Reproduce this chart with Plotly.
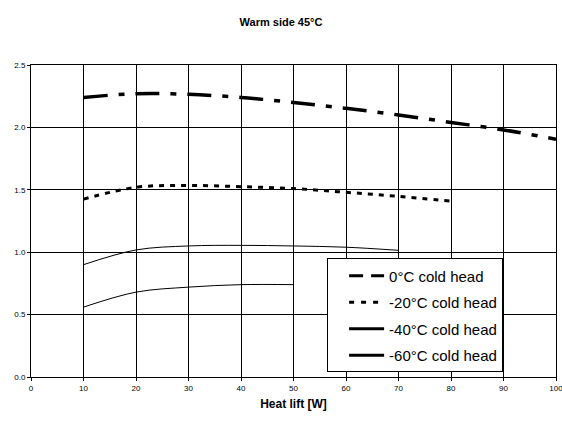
import plotly.graph_objects as go

heat_lift_0 = [10, 20, 30, 40, 50, 60, 70, 80, 90, 100]
cop_0 = [2.24, 2.27, 2.265, 2.24, 2.20, 2.153, 2.10, 2.04, 1.98, 1.905]

heat_lift_20 = [10, 20, 30, 40, 50, 60, 70, 80]
cop_20 = [1.425, 1.52, 1.535, 1.525, 1.51, 1.48, 1.447, 1.41]

heat_lift_40 = [10, 20, 30, 40, 50, 60, 70]
cop_40 = [0.90, 1.018, 1.05, 1.055, 1.05, 1.04, 1.015]

heat_lift_60 = [10, 20, 30, 40, 50]
cop_60 = [0.56, 0.68, 0.72, 0.74, 0.74]

names = ["0°C cold head", "-20°C cold head", "-40°C cold head", "-60°C cold head"]

font = "Liberation Sans, Arial, sans-serif"
dash0 = "24px,11px,6px,11px"
dash20 = "5px,6px"

fig = go.Figure()
series = [
    (heat_lift_0, cop_0, 3.5, dash0),
    (heat_lift_20, cop_20, 3, dash20),
    (heat_lift_40, cop_40, 1, "solid"),
    (heat_lift_60, cop_60, 1, "solid"),
]
for (xs, ys, w, d), n in zip(series, names):
    fig.add_trace(go.Scatter(x=xs, y=ys, mode="lines", showlegend=False,
                             line=dict(color="black", width=w, dash=d, shape="spline"),
                             hoverinfo="skip"))
legend_dash = ["14px,8px,6px,0px", "5px,7px", "solid", "solid"]
for i, n in enumerate(names):
    fig.add_trace(go.Scatter(x=[None], y=[None], mode="lines", name=n,
                             legendgroup=str(i),
                             line=dict(color="black", width=3, dash=legend_dash[i])))

fig.update_layout(
    width=562, height=423,
    margin=dict(l=31, r=6, t=65, b=46),
    paper_bgcolor="white", plot_bgcolor="white",
    font=dict(family=font, color="black", size=8),
    title=dict(text="<b>Warm side 45°C</b>", x=0.5, xanchor="center", y=1 - 22/423, yanchor="middle",
               font=dict(size=11, family=font)),
    xaxis=dict(range=[0, 100], dtick=10, tick0=0, showgrid=True, gridcolor="black", gridwidth=1,
               showline=True, linecolor="black", linewidth=1, mirror=True, ticks="outside",
               ticklen=3, tickcolor="black", zeroline=False, ticklabeloverflow="allow",
               automargin=False,
               title=dict(text="<b>Heat lift [W]</b>", font=dict(size=12, family=font), standoff=8),
               tickfont=dict(size=8)),
    yaxis=dict(range=[0, 2.5], dtick=0.5, tick0=0, tickformat=".1f", showgrid=True, gridcolor="black",
               gridwidth=1, showline=True, linecolor="black", linewidth=1, mirror=True,
               ticks="outside", ticklen=3, tickcolor="black", zeroline=False, tickfont=dict(size=8),
               automargin=False),
    legend=dict(x=0.564, y=0.38, xanchor="left", yanchor="top", bgcolor="white",
                bordercolor="black", borderwidth=1, font=dict(size=15, family=font),
                itemwidth=35, tracegroupgap=4, traceorder="grouped", indentation=16),
)

fig.write_html("out.html", post_script="document.body.style.margin='0';",
               config={"displayModeBar": False})
